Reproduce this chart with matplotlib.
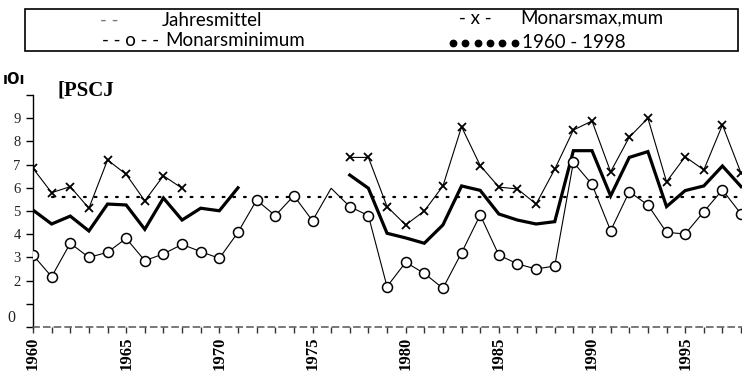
import numpy as np
import matplotlib
matplotlib.use("Agg")
import matplotlib.pyplot as plt
from matplotlib.patches import Rectangle
from matplotlib.lines import Line2D

nan = np.nan

# Years 1960-1998
years = list(range(1960, 1999))

# Annual mean (Jahresmittel), gap 1972-1976
jahresmittel = [5.04, 4.44, 4.78, 4.14, 5.30, 5.26, 4.21, 5.56, 4.61, 5.12,
                5.01, 6.00, nan, nan, nan, nan, nan, 6.55, 5.98, 4.04,
                3.84, 3.61, 4.40, 6.08, 5.89, 4.87, 4.61, 4.44, 4.54, 7.60,
                7.60, 5.65, 7.31, 7.56, 5.19, 5.88, 6.08, 6.94, 6.05]

# Monthly maximum (Monatsmaximum), gap 1969-1976
monatsmax = [6.84, 5.79, 6.05, 5.12, 7.20, 6.58, 5.44, 6.52, 5.98, nan,
             nan, nan, nan, nan, nan, nan, nan, 7.31, 7.31, 5.19,
             4.40, 5.00, 6.08, 8.63, 6.96, 6.03, 5.95, 5.30, 6.80, 8.49,
             8.88, 6.69, 8.18, 9.00, 6.26, 7.34, 6.77, 8.71, 6.63]

# Monthly minimum (Monatsminimum)
monatsmin = [3.10, 2.17, 3.61, 3.00, 3.22, 3.82, 2.86, 3.15, 3.56, 3.25,
             2.96, 4.08, 5.47, 4.80, 5.66, 4.58, 5.98, 5.19, 4.80, 1.74,
             2.79, 2.31, 1.67, 3.20, 4.83, 3.10, 2.72, 2.50, 2.63, 7.10,
             6.15, 4.15, 5.83, 5.26, 4.08, 4.01, 4.97, 5.91, 4.87]

# Long-term mean 1960-1998
mittel_gesamt = 5.60
mittel_span = [1961, 1998.1]

x_labels = ["1960", "1965", "1970", "1975", "1980", "1985", "1990", "1995"]
y_labels = ["", "", "2", "3", "4", "5", "6", "7", "8", "9", ""]

legend_left = [("- -", "Jahresmittel"), ("- - o - -", "Monarsminimum")]
legend_right = [("- x -", "Monarsmax,mum"), ("", "1960 - 1998")]

W, H = 742, 376
fig = plt.figure(figsize=(W / 100, H / 100), dpi=100)
ax = fig.add_axes([33 / W, 49 / H, (W - 33) / W, 232 / H])
ax.set_xlim(1960, 1998.05)
ax.set_ylim(0, 10)

# series
ax.plot(mittel_span, [mittel_gesamt, mittel_gesamt], color="black", lw=1.6,
        linestyle=(0, (0.8, 4.0)), dash_capstyle="round", zorder=2)
ax.plot(years, jahresmittel, color="black", lw=2.3, solid_joinstyle="miter", zorder=3)
ax.plot(years, monatsmax, color="black", lw=0.8, marker="x", ms=6, mew=1.3, zorder=3)
mark_idx = [i for i in range(len(years)) if years[i] != 1976]
ax.plot(years, monatsmin, color="black", lw=0.8, marker="o", ms=7.2,
        mfc="white", mec="black", mew=1.1, markevery=mark_idx, zorder=4)

# axes styling
for s in ("top", "right"):
    ax.spines[s].set_visible(False)
ax.spines["left"].set_linewidth(1.0)
ax.spines["bottom"].set_linewidth(1.1)
ax.spines["bottom"].set_color("#555555")
ax.spines["bottom"].set_linestyle((0, (4, 3)))

ax.set_yticks(range(0, 11))
ax.set_yticklabels(y_labels, family="Liberation Serif", fontsize=10.5, color="#222222")
ax.tick_params(axis="y", direction="out", length=5, width=1, pad=4)

ax.set_xticks(list(range(1960, 1996, 5)))
ax.set_xticklabels(x_labels, rotation=90, family="Liberation Serif",
                   fontweight="bold", fontsize=12, va="top")
ax.set_xticks(years, minor=True)
ax.tick_params(axis="x", which="both", direction="out", length=4, width=1,
               color="#333333", pad=3)

# texts around the plot
fig.text(11 / W, 1 - 318 / H, "0", family="Liberation Serif", fontsize=11.5,
         ha="center", va="center", color="#222222")
fig.text(14 / W, 1 - 79 / H, "\u0131O\u0131", family="DejaVu Sans", fontweight="bold",
         fontsize=10.5, ha="center", va="center")
fig.text(57 / W, 1 - 90 / H, "[PSCJ", family="Liberation Serif", fontweight="bold",
         fontsize=15, ha="left", va="center")

# legend box
fig.add_artist(Rectangle((25 / W, 1 - 51 / H), (738 - 25) / W, 42 / H,
                         transform=fig.transFigure, fill=False, lw=1.2,
                         edgecolor="black"))
lf = dict(family="Lato", fontsize=13.5, va="center")
fig.text(100 / W, 1 - 21 / H, legend_left[0][0], color="#777777", **lf)
fig.text(162 / W, 1 - 21 / H, legend_left[0][1], **lf)
fig.text(102 / W, 1 - 41 / H, legend_left[1][0], **lf)
fig.text(165 / W, 1 - 41 / H, legend_left[1][1], **lf)
fig.text(459 / W, 1 - 18 / H, legend_right[0][0], **lf)
fig.text(520 / W, 1 - 18 / H, legend_right[0][1], **lf)
dot_x = [(453 + 12.3 * i) / W for i in range(6)]
fig.add_artist(Line2D(dot_x, [1 - 43 / H] * 6, transform=fig.transFigure,
                      linestyle="none", marker="o", ms=4.6, color="black"))
fig.text(522 / W, 1 - 42 / H, legend_right[1][1], **lf)

fig.savefig("out.png", dpi=100)
